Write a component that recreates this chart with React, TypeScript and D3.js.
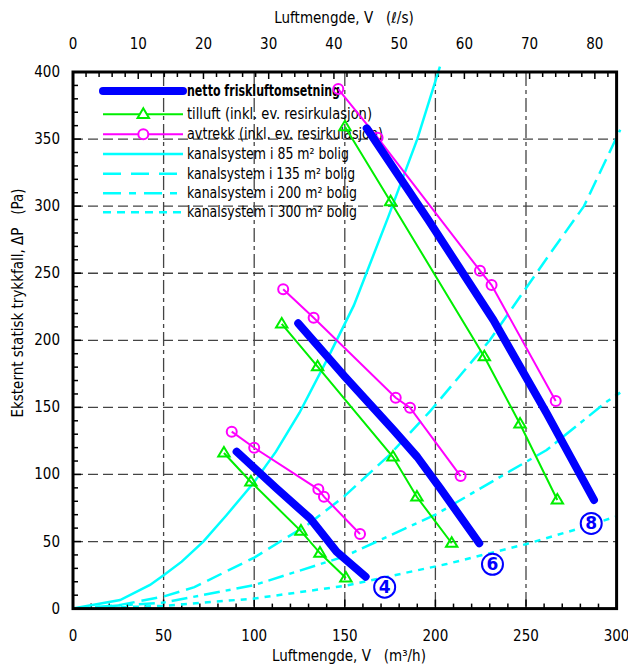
import React from "react";
import * as d3 from "d3";

type P = [number, number];

// Luftmengde (m3/h) , trykkfall (Pa)
const netto4: P[] = [[90.3, 117], [112, 90], [130.8, 67.3], [145.5, 42.4], [161.5, 23.8]];
const netto6: P[] = [[124.3, 212.7], [150, 173], [177, 133], [190, 113], [203, 89], [224.2, 48.7]];
const netto8: P[] = [[162.1, 358], [196.1, 289.7], [232, 215.1], [261.4, 145.6], [287.5, 81]];

const tilluft4: P[] = [[83.3, 116], [98.2, 94.4], [125.8, 57.8], [136.3, 41.4], [150.6, 22.8]];
const tilluft6: P[] = [[115.2, 212.2], [135, 180.3], [176.6, 113], [189.8, 83.2], [209, 48.7]];
const tilluft8: P[] = [[150.1, 359.2], [175.3, 303.3], [227, 187.8], [246.7, 137.6], [267.3, 81]];

const avtrekk4: P[] = [[87.6, 131.9], [100, 119.9], [135.4, 88.9], [138.5, 83.4], [158.4, 55.6]];
const avtrekk6: P[] = [[116, 238], [132.8, 216.8], [178.1, 157.2], [186, 149.8], [213.9, 98.8]];
const avtrekk8: P[] = [[146.4, 387.3], [168.1, 351], [224.6, 251.9], [231, 241.2], [266.4, 154.8]];

const kanal85: P[] = [[0, 0], [26, 6.4], [42.5, 17.6], [50.2, 25], [60, 35], [71.9, 49.9], [84.8, 69.8], [99.5, 93.4], [112, 117], [125, 146], [140, 185], [155, 226], [174, 292], [190, 350], [202.5, 404]];
const kanal135: P[] = [[0, 0], [25, 2.5], [50, 9], [67, 16], [100, 38], [130, 63], [150, 84], [175, 115], [197, 147], [230, 200], [261.4, 261], [282, 300], [302, 357]];
const kanal200: P[] = [[0, 0], [50, 4.5], [100, 17.5], [150, 39], [200, 70], [239.3, 101], [261.4, 118.2], [294.5, 154.2], [302, 161]];
const kanal300: P[] = [[0, 0], [50, 2], [100, 7.5], [150, 17], [206.2, 33.2], [250.4, 48.2], [279.8, 59.9], [299.5, 68.5]];

const xTicks = [0, 50, 100, 150, 200, 250, 300];
const yTicks = [0, 50, 100, 150, 200, 250, 300, 350, 400];
const topTicks = [0, 10, 20, 30, 40, 50, 60, 70, 80];

const legendLabels = [
  "netto friskluftomsetning",
  "tilluft (inkl. ev. resirkulasjon)",
  "avtrekk (inkl. ev. resirkulasjon)",
  "kanalsystem i 85 m² bolig",
  "kanalsystem i 135 m² bolig",
  "kanalsystem i 200 m² bolig",
  "kanalsystem i 300 m² bolig",
];

const curveLabels: { n: string; at: P }[] = [
  { n: "4", at: [172, 16] },
  { n: "6", at: [231.5, 33] },
  { n: "8", at: [286, 63.5] },
];

const BLUE = "#0000ff";
const GREEN = "#00ee00";
const MAGENTA = "#ff00ff";
const CYAN = "#00ffff";
const FONT = "'Liberation Sans Narrow', 'DejaVu Sans Condensed', 'Liberation Sans', sans-serif";

export default function App() {
  const L = 73, R = 616.6, T = 72, B = 608.6;
  const x = d3.scaleLinear().domain([0, 300]).range([L, R]);
  const xTop = d3.scaleLinear().domain([0, 300 / 3.6]).range([L, R]);
  const y = d3.scaleLinear().domain([0, 400]).range([B, T]);
  const line = d3.line<P>().x((d) => x(d[0])).y((d) => y(d[1]));

  const minorX = d3.range(0, 301, 10);
  const minorY = d3.range(0, 401, 10);
  const minorTop = d3.range(0, 83, 2);

  const tri = (cx: number, cy: number, s = 6) =>
    `M${cx},${cy - s} L${cx + s * 0.95},${cy + s * 0.6} L${cx - s * 0.95},${cy + s * 0.6} Z`;

  const legendY = [91, 114.3, 134.3, 154, 173.7, 193.3, 212.3];
  const legendW = [153, 185, 196, 162, 168, 170, 170];
  const legX1 = 103, legX2 = 183, legTx = 187;

  return (
    <svg width={628} height={667} style={{ position: "absolute", left: 0, top: 0, background: "#fff" }} fontFamily={FONT}>
      <rect x={0} y={0} width={628} height={667} fill="#fff" />
      {/* grid */}
      {yTicks.filter((v) => v > 0 && v < 400).map((v) => (
        <line key={"gy" + v} x1={L} x2={R} y1={y(v)} y2={y(v)} stroke="#444" strokeWidth={1.3} strokeDasharray="10,5" />
      ))}
      {xTicks.filter((v) => v > 0 && v < 300).map((v) => (
        <line key={"gx" + v} x1={x(v)} x2={x(v)} y1={T} y2={B} stroke="#444" strokeWidth={1.3} strokeDasharray="14,4,4,4" />
      ))}
      {/* ticks */}
      {minorX.map((v) => (
        <line key={"tx" + v} x1={x(v)} x2={x(v)} y1={B} y2={B - (v % 50 === 0 ? 9 : 5)} stroke="#000" strokeWidth={1.5} />
      ))}
      {minorY.map((v) => (
        <line key={"ty" + v} x1={L} x2={L + (v % 50 === 0 ? 8 : 5)} y1={y(v)} y2={y(v)} stroke="#000" strokeWidth={1.5} />
      ))}
      {minorTop.map((v) => (
        <line key={"tt" + v} x1={xTop(v)} x2={xTop(v)} y1={T} y2={T + (v % 10 === 0 ? 7 : 5)} stroke="#000" strokeWidth={1.5} />
      ))}
      {/* tick labels */}
      {xTicks.map((v) => (
        <text key={"lx" + v} x={x(v)} y={641} fontSize={15} textAnchor="middle" fill="#000">{v}</text>
      ))}
      {topTicks.map((v) => (
        <text key={"lt" + v} x={xTop(v)} y={49} fontSize={15} textAnchor="middle" fill="#000">{v}</text>
      ))}
      {yTicks.map((v) => (
        <text key={"ly" + v} x={60} y={y(v) + 5} fontSize={15} textAnchor="end" fill="#000">{v}</text>
      ))}
      {/* axis titles */}
      <text x={344} y={23} fontSize={15} textAnchor="middle" fill="#000" style={{ whiteSpace: "pre" }}>{"Luftmengde, V   (ℓ/s)"}</text>
      <text x={349} y={661} fontSize={15} textAnchor="middle" fill="#000" style={{ whiteSpace: "pre" }}>{"Luftmengde, V   (m³/h)"}</text>
      <text transform="translate(23,303) rotate(-90)" fontSize={15} textAnchor="middle" fill="#000" style={{ whiteSpace: "pre" }}>{"Eksternt statisk trykkfall, ΔP   (Pa)"}</text>

      {/* legend */}
      <line x1={legX1} x2={legX2} y1={legendY[0]} y2={legendY[0]} stroke={BLUE} strokeWidth={8} strokeLinecap="round" />
      <line x1={legX1} x2={legX2} y1={legendY[1]} y2={legendY[1]} stroke={GREEN} strokeWidth={2} />
      <path d={tri(143.3, legendY[1])} fill="#fff" stroke={GREEN} strokeWidth={2} />
      <line x1={legX1} x2={legX2} y1={legendY[2]} y2={legendY[2]} stroke={MAGENTA} strokeWidth={2} />
      <circle cx={143.3} cy={legendY[2]} r={5} fill="#fff" stroke={MAGENTA} strokeWidth={2} />
      <line x1={legX1} x2={legX2} y1={legendY[3]} y2={legendY[3]} stroke={CYAN} strokeWidth={2.5} />
      <line x1={legX1} x2={legX2} y1={legendY[4]} y2={legendY[4]} stroke={CYAN} strokeWidth={2.5} strokeDasharray="18,10" />
      <line x1={legX1} x2={legX2} y1={legendY[5]} y2={legendY[5]} stroke={CYAN} strokeWidth={2.5} strokeDasharray="18,8,7,8" />
      <line x1={legX1} x2={legX2} y1={legendY[6]} y2={legendY[6]} stroke={CYAN} strokeWidth={2.5} strokeDasharray="8,6" />
      {legendLabels.map((t, i) => (
        <text key={"lg" + i} x={legTx} y={legendY[i] + 5} fontSize={15} fontWeight={i === 0 ? "bold" : "normal"} fill="#000"
          textLength={legendW[i]} lengthAdjust="spacingAndGlyphs">{t}</text>
      ))}

      {/* system curves */}
      <path d={line(kanal85) ?? ""} fill="none" stroke={CYAN} strokeWidth={2.5} />
      <path d={line(kanal135) ?? ""} fill="none" stroke={CYAN} strokeWidth={2.5} strokeDasharray="16,7" />
      <path d={line(kanal200) ?? ""} fill="none" stroke={CYAN} strokeWidth={2.5} strokeDasharray="16,6,5,6" />
      <path d={line(kanal300) ?? ""} fill="none" stroke={CYAN} strokeWidth={2.5} strokeDasharray="6,6" />

      {/* tilluft */}
      {[tilluft4, tilluft6, tilluft8].map((s, i) => (
        <g key={"tl" + i}>
          <path d={line(s) ?? ""} fill="none" stroke={GREEN} strokeWidth={2} />
          {s.map((d, j) => (
            <path key={j} d={tri(x(d[0]), y(d[1]))} fill="none" stroke={GREEN} strokeWidth={2} />
          ))}
        </g>
      ))}
      {/* avtrekk */}
      {[avtrekk4, avtrekk6, avtrekk8].map((s, i) => (
        <g key={"av" + i}>
          <path d={line(s) ?? ""} fill="none" stroke={MAGENTA} strokeWidth={2} />
          {s.map((d, j) => (
            <circle key={j} cx={x(d[0])} cy={y(d[1])} r={5} fill="none" stroke={MAGENTA} strokeWidth={2} />
          ))}
        </g>
      ))}
      {/* netto */}
      {[netto4, netto6, netto8].map((s, i) => (
        <path key={"nt" + i} d={line(s) ?? ""} fill="none" stroke={BLUE} strokeWidth={8} strokeLinecap="round" strokeLinejoin="round" />
      ))}
      {curveLabels.map((c) => (
        <g key={"cl" + c.n}>
          <circle cx={x(c.at[0])} cy={y(c.at[1])} r={10.5} fill="#fff" stroke={BLUE} strokeWidth={2} />
          <text x={x(c.at[0])} y={y(c.at[1]) + 6} fontSize={17} fontWeight="bold" textAnchor="middle" fill={BLUE} fontFamily="'DejaVu Sans', sans-serif">{c.n}</text>
        </g>
      ))}
      {/* frame */}
      <rect x={L} y={T} width={R - L} height={B - T} fill="none" stroke="#000" strokeWidth={3} />
    </svg>
  );
}
